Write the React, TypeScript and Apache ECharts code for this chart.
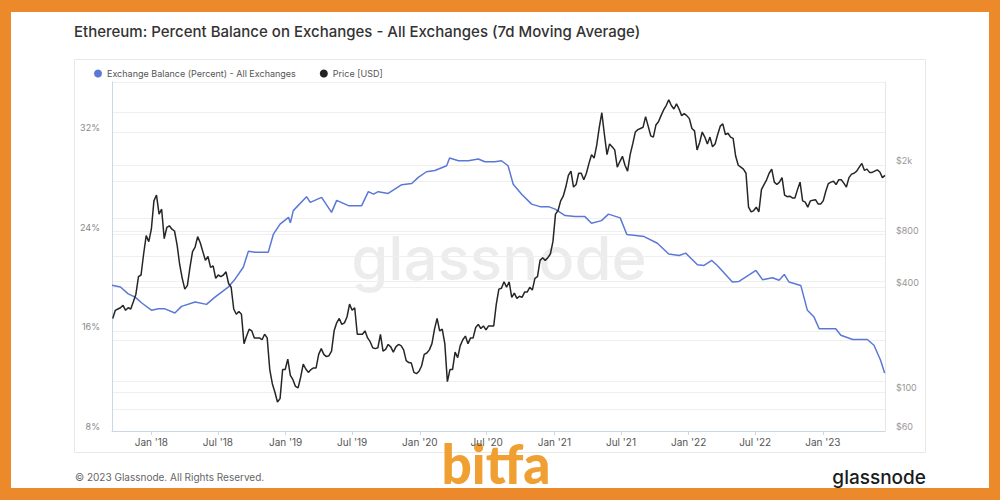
import React, { useEffect, useRef } from 'react';
import * as echarts from 'echarts';

// ---------- data ----------
const ts = (s: string) => {
  const [y, m, d] = s.split('-').map(Number);
  return Date.UTC(y, m - 1, d);
};
const DAY = 86400000;

// ETH price [USD], weekly (Mondays) starting at the given date of each block
const price2017 = [265, 295, 300, 305, 315, 295, 305, 300, 330, 365, 460, 470, 620, 790, 730];
const price2018 = [
  860, 1250, 1350, 1050, 1120,
  760, 880, 900, 860,
  840, 700, 540, 450,
  390, 410, 520, 640, 680,
  780, 720, 640, 570,
  600, 520, 530, 450,
  470, 460, 470, 490, 420,
  400, 300, 280, 290,
  280, 190, 210, 230,
  225, 205, 205, 205, 200,
  215, 205, 135, 112,
  100, 88, 92, 135, 135,
];
const price2019 = [
  155, 125, 118, 108,
  106, 122, 145, 136,
  130, 135, 138, 138,
  165, 178, 165, 160, 162,
  172, 225, 250, 265,
  245, 250, 270, 320,
  295, 305, 215, 215, 215,
  225, 205, 195, 180,
  178, 180, 215, 172, 176,
  188, 182, 170, 182,
  188, 185, 175, 152,
  148, 147, 130, 128, 132,
];
const price2020 = [
  142, 165, 168, 175,
  190, 230, 265, 225,
  230, 190, 115, 135, 135,
  170, 158, 185, 200,
  210, 190, 205, 205,
  235, 245, 232, 240, 228,
  240, 240, 240, 320,
  390, 395, 430, 400, 430,
  350, 370, 345, 355,
  350, 375, 375, 400,
  385, 450, 460, 570, 590,
  570, 590, 620, 730,
];
const price2021 = [
  1050, 1100, 1250, 1330,
  1500, 1750, 1850, 1500,
  1550, 1800, 1800, 1650, 1800,
  2050, 2300, 2200, 2600,
  3300, 4000, 3000, 2300, 2650,
  2550, 2450, 1950, 2100,
  2250, 2000, 1850, 2300,
  2650, 3100, 3200, 3250, 3300,
  3800, 3350, 2950, 2900,
  3400, 3550, 3850, 4150,
  4400, 4750, 4400, 4200, 4500,
  4200, 3850, 3950, 3850,
];
const price2022 = [
  3700, 3250, 3150, 2450, 2700,
  3100, 2900, 2650, 2900,
  2550, 2650, 3000, 3350,
  3450, 3000, 3050, 2900,
  2850, 2250, 2000, 1950, 1900,
  1800, 1150, 1080, 1100,
  1150, 1080, 1450, 1550,
  1650, 1800, 1900, 1600, 1550,
  1600, 1700, 1350, 1320,
  1330, 1300, 1300, 1450, 1600,
  1250, 1230, 1150, 1250,
  1260, 1270, 1200, 1200,
];
const price2023 = [
  1250, 1420, 1570, 1600, 1620,
  1550, 1650, 1650, 1580,
  1500, 1700, 1780, 1800,
  1850, 1950, 2050, 1870,
  1900, 1820, 1820, 1850, 1880,
  1830, 1700, 1750,
];
const priceBlocks: [string, number[]][] = [
  ['2017-09-18', price2017],
  ['2018-01-01', price2018],
  ['2019-01-07', price2019],
  ['2020-01-06', price2020],
  ['2021-01-04', price2021],
  ['2022-01-03', price2022],
  ['2023-01-02', price2023],
];

// Exchange balance (percent), 7d MA
const balanceDates = [
  '2017-09-16', '2017-10-09', '2017-10-30', '2017-11-18', '2017-12-06', '2018-01-02', '2018-01-20', '2018-02-07',
  '2018-03-06', '2018-03-24', '2018-04-30', '2018-05-31', '2018-06-23', '2018-07-11', '2018-07-29', '2018-08-17',
  '2018-09-08', '2018-09-22', '2018-10-10', '2018-11-15', '2018-11-29', '2018-12-17', '2019-01-09', '2019-01-14',
  '2019-01-22', '2019-02-27', '2019-03-09', '2019-04-09', '2019-05-06', '2019-05-20', '2019-06-21', '2019-07-27',
  '2019-08-14', '2019-08-28', '2019-09-10', '2019-10-07', '2019-11-13', '2019-12-10', '2019-12-28', '2020-01-19',
  '2020-02-11', '2020-03-14', '2020-03-22', '2020-04-15', '2020-05-12', '2020-06-08', '2020-06-26', '2020-07-23',
  '2020-08-10', '2020-08-28', '2020-09-11', '2020-10-04', '2020-10-31', '2020-11-23', '2020-12-16', '2021-01-03',
  '2021-01-30', '2021-02-26', '2021-03-25', '2021-04-12', '2021-05-09', '2021-05-28', '2021-06-29', '2021-07-17',
  '2021-08-10', '2021-09-02', '2021-10-08', '2021-11-08', '2021-12-06', '2021-12-24', '2022-01-25', '2022-02-12',
  '2022-03-05', '2022-03-20', '2022-04-30', '2022-05-18', '2022-06-05', '2022-07-03', '2022-07-21', '2022-08-17',
  '2022-09-04', '2022-09-18', '2022-10-01', '2022-11-02', '2022-11-20', '2022-12-08', '2022-12-22', '2023-02-05',
  '2023-02-19', '2023-03-23', '2023-05-02', '2023-05-20', '2023-06-07', '2023-06-18',
];
const balanceValues = [
  19.7, 19.55, 19.0, 18.74, 18.27, 17.68, 17.8, 17.8,
  17.47, 18.0, 18.35, 18.16, 18.74, 19.14, 19.54, 20.2,
  21.14, 22.43, 22.35, 22.35, 23.8, 24.6, 25.14, 24.7,
  25.68, 26.8, 26.34, 26.74, 25.54, 26.5, 26.08, 26.08,
  27.2, 27.0, 27.2, 27.06, 27.76, 27.86, 28.35, 28.8,
  28.9, 29.28, 29.9, 29.68, 29.68, 29.82, 29.6, 29.6,
  29.68, 29.28, 27.8, 27.0, 26.2, 26.0, 26.0, 25.8,
  25.28, 25.2, 25.2, 24.67, 24.88, 25.4, 25.1, 23.76,
  23.68, 23.6, 23.06, 22.2, 22.08, 22.27, 21.34, 21.28,
  21.68, 21.28, 19.95, 20.0, 20.35, 20.88, 20.14, 20.3,
  20.1, 20.56, 19.95, 19.68, 17.68, 17.14, 16.2, 16.2,
  15.68, 15.34, 15.34, 14.88, 13.68, 12.66,
];

const xStart = '2017-09-16';
const xEnd = '2023-06-19';
const xLabelDates = [
  '2018-01-01', '2018-07-01', '2019-01-01', '2019-07-01', '2020-01-01', '2020-07-01',
  '2021-01-01', '2021-07-01', '2022-01-01', '2022-07-01', '2023-01-01',
];
const pctLabels = [8, 16, 24, 32];
const priceLabels = [60, 100, 400, 800, 2000];
const priceGridValues = [60, 80, 100, 200, 400, 600, 800, 1000, 2000, 4000];
const MONTHS = ['Jan', 'Feb', 'Mar', 'Apr', 'May', 'Jun', 'Jul', 'Aug', 'Sep', 'Oct', 'Nov', 'Dec'];

const FONT = 'Inter, "Noto Sans", sans-serif';

export default function App() {
  const ref = useRef<HTMLDivElement>(null);

  useEffect(() => {
    if (!ref.current) return;
    const chart = echarts.init(ref.current, undefined, { renderer: 'svg' });

    const priceData = priceBlocks.flatMap(([start, vals]) =>
      vals.map((v, i) => [ts(start) + i * 7 * DAY, v])
    );
    const balanceData = balanceDates.map((d, i) => [ts(d), balanceValues[i]]);
    const xLabelTs = xLabelDates.map(ts);

    chart.setOption({
      animation: false,
      backgroundColor: '#EC8A2B',
      textStyle: { fontFamily: FONT },
      title: {
        text: 'Ethereum: Percent Balance on Exchanges - All Exchanges (7d Moving Average)',
        left: 74,
        top: 24,
        padding: 0,
        textStyle: { fontFamily: FONT, fontSize: 15, fontWeight: 500, color: '#333' },
      },
      legend: {
        left: 94,
        top: 69,
        padding: 0,
        icon: 'circle',
        itemWidth: 8,
        itemHeight: 8,
        itemGap: 24,
        textStyle: { fontFamily: FONT, fontSize: 9, color: '#555' },
        data: ['Exchange Balance (Percent) - All Exchanges', 'Price [USD]'],
      },
      grid: { left: 112, right: 115, top: 82, bottom: 69, containLabel: false },
      xAxis: {
        type: 'value',
        min: ts(xStart),
        max: ts(xEnd),
        axisLine: { show: true, lineStyle: { color: '#ccd6eb' } },
        axisTick: { show: true, length: 4, customValues: xLabelTs, lineStyle: { color: '#ccd6eb' } },
        axisLabel: {
          customValues: xLabelTs,
          margin: 6,
          color: '#555',
          fontSize: 10,
          fontFamily: FONT,
          formatter: (v: number) => {
            const d = new Date(v);
            return `${MONTHS[d.getUTCMonth()]} '${String(d.getUTCFullYear()).slice(2)}`;
          },
        },
        splitLine: { show: false },
      },
      yAxis: [
        {
          type: 'value',
          min: 8,
          max: 36,
          interval: 4,
          position: 'left',
          axisLine: { show: true, lineStyle: { color: '#ccd6eb' } },
          axisTick: { show: false },
          axisLabel: {
            color: '#888',
            fontSize: 9,
            fontFamily: FONT,
            margin: 12,
            verticalAlign: 'bottom',
            formatter: (v: number) => (pctLabels.includes(v) ? `${v}%` : ''),
          },
          splitLine: { show: true, lineStyle: { color: '#efefef' } },
        },
        {
          type: 'log',
          logBase: 10,
          min: 60,
          max: 6000,
          position: 'right',
          axisLine: { show: true, lineStyle: { color: '#e6e6e6' } },
          axisTick: { show: false, customValues: priceGridValues },
          axisLabel: {
            customValues: priceLabels,
            color: '#999',
            fontSize: 9,
            fontFamily: FONT,
            margin: 11,
            verticalAlign: 'bottom',
            formatter: (v: number) => (v >= 1000 ? `$${v / 1000}k` : `$${v}`),
          },
          splitLine: { show: true, lineStyle: { color: '#efefef' } },
        },
      ],
      graphic: [
        { type: 'rect', shape: { x: 11, y: 12, width: 978, height: 476 }, style: { fill: '#ffffff' }, z: -10 },
        {
          type: 'rect',
          shape: { x: 74.5, y: 59.5, width: 851, height: 393 },
          style: { fill: 'none', stroke: '#e8e8e8', lineWidth: 1 },
          z: -9,
        },
        {
          type: 'text',
          x: 499,
          y: 258,
          z: -5,
          style: {
            text: 'glassnode',
            fontFamily: FONT,
            fontSize: 60,
            fontWeight: 500,
            fill: 'rgba(0,0,0,0.075)',
            align: 'center',
            verticalAlign: 'middle',
          },
        },
        {
          type: 'text',
          x: 75,
          y: 477,
          style: {
            text: '© 2023 Glassnode. All Rights Reserved.',
            fontFamily: FONT,
            fontSize: 10,
            fill: '#666',
            verticalAlign: 'middle',
          },
        },
        {
          type: 'text',
          x: 926,
          y: 477,
          style: {
            text: 'glassnode',
            fontFamily: FONT,
            fontSize: 19,
            fontWeight: 500,
            fill: '#1b1b1b',
            align: 'right',
            verticalAlign: 'middle',
          },
        },
        {
          type: 'text',
          x: 496,
          y: 462,
          scaleX: 0.95,
          originX: 0,
          style: {
            text: 'bitfa',
            fontFamily: 'Lato, sans-serif',
            fontSize: 56,
            fontWeight: 900,
            fill: '#F0A033',
            align: 'center',
            verticalAlign: 'middle',
          },
        },
      ],
      series: [
        {
          name: 'Exchange Balance (Percent) - All Exchanges',
          type: 'line',
          yAxisIndex: 0,
          data: balanceData,
          showSymbol: false,
          color: '#5b78d6',
          lineStyle: { width: 1.5, color: '#5b78d6' },
          z: 3,
        },
        {
          name: 'Price [USD]',
          type: 'line',
          yAxisIndex: 1,
          data: priceData,
          showSymbol: false,
          color: '#222',
          lineStyle: { width: 1.5, color: '#262626' },
          z: 4,
        },
      ],
    });

    return () => chart.dispose();
  }, []);

  return (
    <div
      ref={ref}
      style={{ position: 'fixed', left: 0, top: 0, width: 1000, height: 500 }}
    />
  );
}
